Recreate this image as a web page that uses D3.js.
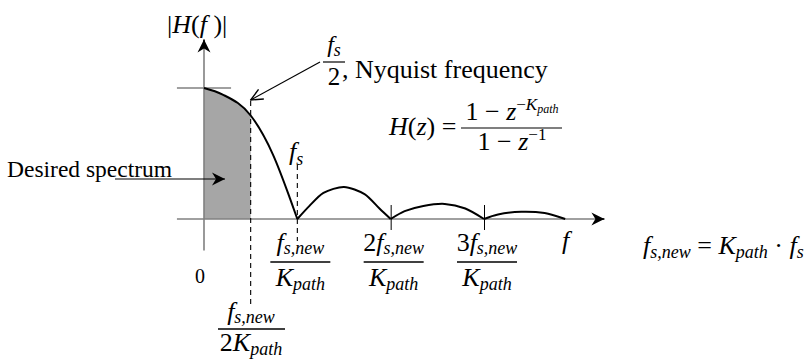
<!DOCTYPE html>
<html>
<head>
<meta charset="utf-8">
<script src="https://cdn.jsdelivr.net/npm/d3@7"></script>
<style>
  html, body { margin: 0; padding: 0; background: #fff; }
  svg { display: block; }
  text { white-space: pre; fill: #000; }
</style>
</head>
<body>
<svg id="chart" width="810" height="359" font-family="Liberation Serif, DejaVu Serif, Times New Roman, serif"></svg>
<script>
// Frequency in units of f_s,new / K_path, magnitude normalised to |H(0)| = 1.
// Each lobe runs from one null to the next.
const mainLobeF = [0, 0.2, 0.5, 0.74, 0.92, 1.0];
const mainLobeH = [1.0, 0.95, 0.79, 0.49, 0.16, 0];
const lobe1F = [1.0, 1.13, 1.28, 1.5, 1.72, 1.88, 2.0];
const lobe1H = [0, 0.10, 0.20, 0.245, 0.19, 0.08, 0];
const lobe2F = [2.0, 2.15, 2.35, 2.58, 2.8, 3.0];
const lobe2H = [0, 0.06, 0.10, 0.115, 0.08, 0];
const lobe3F = [3.0, 3.15, 3.4, 3.65, 3.87];
const lobe3H = [0, 0.035, 0.055, 0.045, 0];

const nullTicks = [1, 2, 3];          // k * f_s,new / K_path
const tickNumerators = ["", "2", "3"];
const nyquistF = 0.5;                  // f_s,new / (2 K_path)
const xAxisExtent = [-0.29, 4.29];
const yAxisExtent = [-0.24, 1.37];
const peakTickExtent = [-0.29, 0.29];

const FONT = "Liberation Serif, DejaVu Serif, Times New Roman, serif";
const svg = d3.select("#chart");
const x = d3.scaleLinear().domain([0, 3]).range([204, 484]);
const y = d3.scaleLinear().domain([0, 1]).range([219, 88]);

const MAIN = 26, SMALL = 18;

// Writes a run of text pieces (italic / sub / superscript) as one text element
function math(sel, px, py, parts, anchor, size) {
  const base = size || MAIN;
  const t = sel.append("text").attr("x", px).attr("y", py)
    .attr("font-family", FONT)
    .attr("text-anchor", anchor || "start");
  let cur = 0;
  parts.forEach(p => {
    const shift = p.dy !== undefined ? p.dy : (p.sub ? 6 : p.sup ? -10 : 0);
    const fs = p.size || ((p.sub || p.sup) ? SMALL : base);
    t.append("tspan").attr("dy", shift - cur).attr("font-size", fs)
      .attr("font-family", FONT)
      .attr("font-style", p.i ? "italic" : "normal").text(p.t);
    cur = shift;
  });
  return t;
}

// Arrowhead markers
const defs = svg.append("defs");
defs.append("marker").attr("id", "stealth").attr("viewBox", "-14 -7 15 14")
  .attr("refX", 0).attr("refY", 0).attr("markerWidth", 15).attr("markerHeight", 14)
  .attr("markerUnits", "userSpaceOnUse").attr("orient", "auto")
  .append("path").attr("d", "M0,0 L-13,-6.5 L-9,0 L-13,6.5 Z").attr("fill", "#000");
defs.append("marker").attr("id", "openArrow").attr("viewBox", "-14 -7 15 14")
  .attr("refX", 0).attr("refY", 0).attr("markerWidth", 15).attr("markerHeight", 14)
  .attr("markerUnits", "userSpaceOnUse").attr("orient", "auto")
  .append("path").attr("d", "M-12,-5.5 L0,0 L-12,5.5").attr("fill", "none")
  .attr("stroke", "#000").attr("stroke-width", 1.4);

const mainPts = mainLobeF.map((f, i) => [f, mainLobeH[i]]);
const lobes = [
  lobe1F.map((f, i) => [f, lobe1H[i]]),
  lobe2F.map((f, i) => [f, lobe2H[i]]),
  lobe3F.map((f, i) => [f, lobe3H[i]])
];

// Shaded pass band up to the Nyquist frequency
defs.append("clipPath").attr("id", "band").append("rect")
  .attr("x", x(0)).attr("y", 0).attr("width", x(nyquistF) - x(0)).attr("height", 359);
svg.append("path")
  .datum(mainPts)
  .attr("clip-path", "url(#band)")
  .attr("fill", "#a6a6a6")
  .attr("d", d3.area().x(d => x(d[0])).y0(y(0)).y1(d => y(d[1])).curve(d3.curveMonotoneX));

// Axes
const axisG = svg.append("g").attr("stroke", "#808080").attr("stroke-width", 1.6);
axisG.append("line").attr("x1", x(xAxisExtent[0])).attr("x2", x(xAxisExtent[1]) - 4)
  .attr("y1", y(0)).attr("y2", y(0));
axisG.append("line").attr("x1", x(0)).attr("x2", x(0))
  .attr("y1", y(yAxisExtent[0])).attr("y2", y(yAxisExtent[1]) + 4);
axisG.append("line").attr("x1", x(peakTickExtent[0])).attr("x2", x(peakTickExtent[1]))
  .attr("y1", y(1)).attr("y2", y(1));
// arrow tips
svg.append("line").attr("x1", x(xAxisExtent[1]) - 6).attr("x2", x(xAxisExtent[1]))
  .attr("y1", y(0)).attr("y2", y(0)).attr("stroke", "#000").attr("stroke-width", 1.6)
  .attr("marker-end", "url(#stealth)");
svg.append("line").attr("x1", x(0)).attr("x2", x(0))
  .attr("y1", y(yAxisExtent[1]) + 6).attr("y2", y(yAxisExtent[1]))
  .attr("stroke", "#000").attr("stroke-width", 1.6).attr("marker-end", "url(#stealth)");

// Null tick marks (the first null is marked by the dashed f_s line instead)
const ticks = d3.axisBottom(x).tickValues(nullTicks.slice(1)).tickSize(25).tickFormat("");
const tickG = svg.append("g").attr("transform", `translate(0,${y(0) - 14})`).call(ticks);
tickG.select(".domain").remove();
tickG.selectAll(".tick line").attr("stroke", "#000").attr("stroke-width", 1);

// Dashed guides
svg.append("line").attr("x1", x(nyquistF)).attr("x2", x(nyquistF))
  .attr("y1", y(0.9)).attr("y2", 305)
  .attr("stroke", "#000").attr("stroke-width", 1.1).attr("stroke-dasharray", "5,4");
svg.append("line").attr("x1", x(nullTicks[0])).attr("x2", x(nullTicks[0]))
  .attr("y1", 165).attr("y2", 241)
  .attr("stroke", "#000").attr("stroke-width", 1.1).attr("stroke-dasharray", "5,4");

// Response curve
const line = d3.line().x(d => x(d[0])).y(d => y(d[1])).curve(d3.curveMonotoneX);
const curveLine = d3.line().x(d => x(d[0])).y(d => y(d[1])).curve(d3.curveCardinal.tension(0.2));
svg.append("path").datum(mainPts).attr("d", line)
  .attr("fill", "none").attr("stroke", "#000").attr("stroke-width", 2);
lobes.forEach(l => svg.append("path").datum(l).attr("d", curveLine)
  .attr("fill", "none").attr("stroke", "#000").attr("stroke-width", 2));

// Annotation arrows
svg.append("line").attr("x1", 320).attr("y1", 62).attr("x2", x(nyquistF)).attr("y2", 100)
  .attr("stroke", "#000").attr("stroke-width", 1.2).attr("marker-end", "url(#openArrow)");
svg.append("line").attr("x1", 115).attr("y1", 179).attr("x2", 225).attr("y2", 179)
  .attr("stroke", "#000").attr("stroke-width", 1.2).attr("marker-end", "url(#stealth)");

// Labels
math(svg, 167, 33, [
  { t: "|" }, { t: "H", i: true }, { t: "(" }, { t: "f", i: true }, { t: " )|" }
]);

// f_s / 2, Nyquist frequency
math(svg, 334, 52, [{ t: "f", i: true }, { t: "s", i: true, sub: true, dy: 4 }], "middle", 24);
svg.append("line").attr("x1", 323).attr("x2", 345).attr("y1", 62).attr("y2", 62)
  .attr("stroke", "#000").attr("stroke-width", 1.2);
math(svg, 334, 85, [{ t: "2" }], "middle", 25);
math(svg, 342, 78, [{ t: ", Nyquist frequency" }]);

// H(z) transfer function
math(svg, 389, 135, [
  { t: "H", i: true }, { t: "(" }, { t: "z", i: true }, { t: ") =" }
]);
math(svg, 512, 120, [
  { t: "1 \u2212 " }, { t: "z", i: true }, { t: "\u2212", dy: -10, size: 17 },
  { t: "K", i: true, dy: -10, size: 17 }, { t: "path", i: true, dy: -7, size: 12 }
], "middle");
svg.append("line").attr("x1", 461).attr("x2", 562).attr("y1", 128).attr("y2", 128)
  .attr("stroke", "#000").attr("stroke-width", 1.2);
math(svg, 512, 150, [
  { t: "1 \u2212 " }, { t: "z", i: true }, { t: "\u22121", dy: -10, size: 17 }
], "middle");

// f_s marker label
math(svg, 289, 160, [{ t: "f", i: true }, { t: "s", i: true, sub: true, dy: 5 }]);

// Desired spectrum
math(svg, 7, 177, [{ t: "Desired spectrum" }], "start", 23.5);

// Origin
math(svg, x(0) - 4, 283, [{ t: "0" }], "middle", 20);

// k f_s,new / K_path under each null
nullTicks.forEach((n, i) => {
  const cx = x(n) + 3;
  math(svg, cx, 251, [
    { t: tickNumerators[i] }, { t: "f", i: true }, { t: "s,new", i: true, sub: true, dy: 3 }
  ], "middle");
  svg.append("line").attr("x1", cx - 30).attr("x2", cx + 30).attr("y1", 262).attr("y2", 262)
    .attr("stroke", "#000").attr("stroke-width", 1.3);
  math(svg, cx, 286, [{ t: "K", i: true }, { t: "path", i: true, sub: true, dy: 4 }], "middle");
});

// f_s,new / 2K_path below the Nyquist guide
math(svg, 251, 320, [{ t: "f", i: true }, { t: "s,new", i: true, sub: true, dy: 3 }], "middle");
svg.append("line").attr("x1", 218).attr("x2", 285).attr("y1", 329).attr("y2", 329)
  .attr("stroke", "#000").attr("stroke-width", 1.3);
math(svg, 251, 351, [
  { t: "2" }, { t: "K", i: true }, { t: "path", i: true, sub: true, dy: 4 }
], "middle");

// Frequency axis label
math(svg, 562, 249, [{ t: "f", i: true }]);

// f_s,new = K_path · f_s
math(svg, 643, 254, [
  { t: "f", i: true }, { t: "s,new", i: true, sub: true, dy: 4 }, { t: " = ", dy: 0 },
  { t: "K", i: true }, { t: "path", i: true, sub: true, dy: 4 }, { t: " \u00b7 ", dy: 0 },
  { t: "f", i: true }, { t: "s", i: true, sub: true, dy: 4 }
]);
</script>
</body>
</html>
